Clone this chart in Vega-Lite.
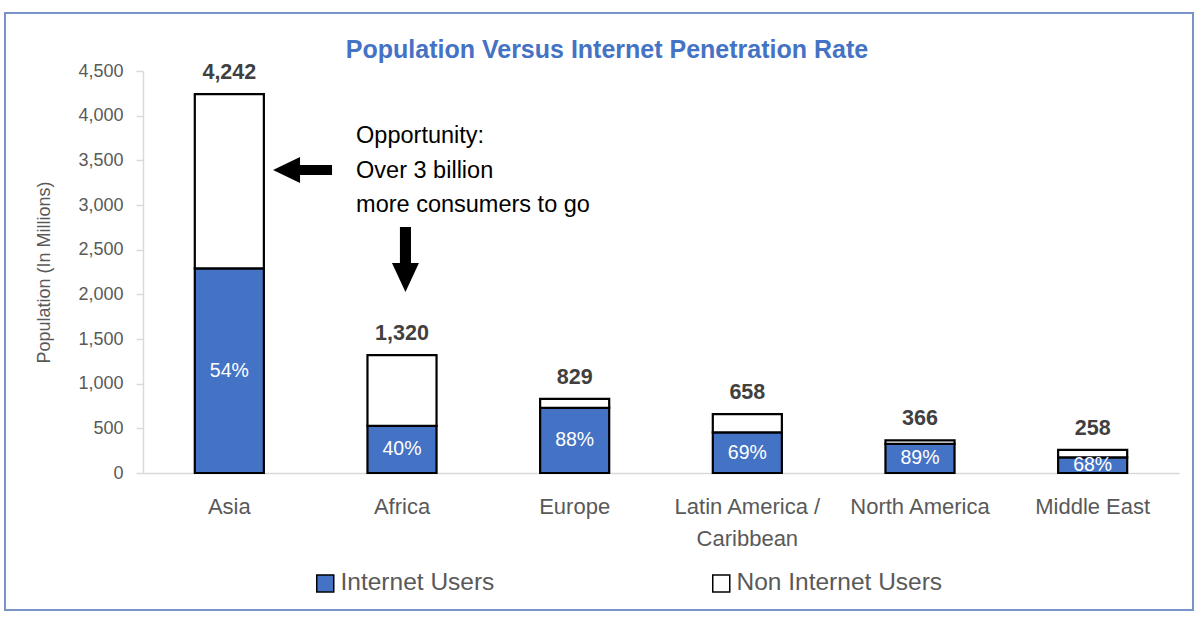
{
  "$schema": "https://vega.github.io/schema/vega-lite/v6.json",
  "width": 1188,
  "height": 597,
  "autosize": {"type": "none"},
  "padding": {"left": 5, "top": 13, "right": 7, "bottom": 10},
  "background": "white",
  "config": {
    "view": {"stroke": "#7a93c6", "strokeWidth": 2},
    "font": "Liberation Sans, Arial, sans-serif"
  },
  "title": {
    "text": "Population Versus Internet Penetration Rate",
    "fontSize": 25,
    "fontWeight": "bold",
    "color": "#4472c4",
    "anchor": "middle",
    "offset": -50,
    "dx": 8
  },
  "datasets": {
    "pop": [
      {"region": "Asia", "segment": "Internet Users", "value": 2291, "total": 4242, "pct": 0.54},
      {"region": "Asia", "segment": "Non Internet Users", "value": 1951, "total": 4242, "pct": 0.54},
      {"region": "Africa", "segment": "Internet Users", "value": 528, "total": 1320, "pct": 0.40},
      {"region": "Africa", "segment": "Non Internet Users", "value": 792, "total": 1320, "pct": 0.40},
      {"region": "Europe", "segment": "Internet Users", "value": 730, "total": 829, "pct": 0.88},
      {"region": "Europe", "segment": "Non Internet Users", "value": 99, "total": 829, "pct": 0.88},
      {"region": "Latin America / Caribbean", "segment": "Internet Users", "value": 454, "total": 658, "pct": 0.69},
      {"region": "Latin America / Caribbean", "segment": "Non Internet Users", "value": 204, "total": 658, "pct": 0.69},
      {"region": "North America", "segment": "Internet Users", "value": 326, "total": 366, "pct": 0.89},
      {"region": "North America", "segment": "Non Internet Users", "value": 40, "total": 366, "pct": 0.89},
      {"region": "Middle East", "segment": "Internet Users", "value": 175, "total": 258, "pct": 0.68},
      {"region": "Middle East", "segment": "Non Internet Users", "value": 83, "total": 258, "pct": 0.68}
    ],
    "notes": [
      {"label": ["Opportunity:", "Over 3 billion", "more consumers to go"], "x": 1.234, "y": 3694}
    ],
    "arrowLeft": [{"x": 0.924, "y": 3392}],
    "arrowDown": [{"x": 1.520, "y": 2390}]
  },
  "layer": [
    {
      "data": {"name": "pop"},
      "mark": {"type": "bar", "stroke": "#000000", "strokeWidth": 2.2},
      "encoding": {
        "x": {
          "field": "region", "type": "nominal",
          "sort": ["Asia", "Africa", "Europe", "Latin America / Caribbean", "North America", "Middle East"],
          "scale": {"range": [138, 1174], "paddingInner": 0.6, "paddingOuter": 0.3},
          "axis": {
            "title": null, "orient": "bottom", "offset": -137, "ticks": false,
            "domainColor": "#d9d9d9", "domainWidth": 1.5,
            "labelFontSize": 22, "labelColor": "#595959", "labelPadding": 23,
            "labelLineHeight": 32, "labelAngle": 0, "labelLimit": 0,
            "labelExpr": "datum.label == 'Latin America / Caribbean' ? ['Latin America /', 'Caribbean'] : datum.label"
          }
        },
        "y": {
          "field": "value", "type": "quantitative", "stack": "zero",
          "scale": {"domain": [0, 4500], "range": [460, 58], "nice": false},
          "axis": {
            "title": "Population (In Millions)",
            "values": [0, 500, 1000, 1500, 2000, 2500, 3000, 3500, 4000, 4500],
            "format": ",.0f", "offset": -138, "grid": false,
            "domainColor": "#d9d9d9", "domainWidth": 1.5,
            "tickColor": "#d9d9d9", "tickSize": 7, "tickWidth": 1.5,
            "labelFontSize": 18, "labelColor": "#595959", "labelPadding": 13,
            "titleFontSize": 18, "titleFontWeight": "normal", "titleColor": "#595959", "titlePadding": 24
          }
        },
        "color": {
          "field": "segment", "type": "nominal",
          "scale": {"domain": ["Internet Users", "Non Internet Users"], "range": ["#4472c4", "#ffffff"]},
          "legend": {
            "title": null, "orient": "none", "legendX": 308, "legendY": 558,
            "direction": "horizontal", "symbolType": "square", "symbolSize": 289,
            "symbolStrokeColor": "#000000", "symbolStrokeWidth": 1.5,
            "labelFontSize": 24.5, "labelColor": "#595959", "labelOffset": 3,
            "columnPadding": 214, "padding": 0, "labelLimit": 0
          }
        },
        "order": {"field": "segment", "sort": "ascending"}
      }
    },
    {
      "data": {"name": "pop"},
      "transform": [{"filter": "datum.segment == 'Internet Users'"}],
      "mark": {"type": "text", "fontSize": 21.5, "fontWeight": "bold", "color": "#404040", "baseline": "alphabetic", "dy": -15},
      "encoding": {
        "x": {
          "field": "region", "type": "nominal",
          "sort": ["Asia", "Africa", "Europe", "Latin America / Caribbean", "North America", "Middle East"],
          "scale": {"range": [138, 1174], "paddingInner": 0.6, "paddingOuter": 0.3},
          "axis": null
        },
        "y": {
          "field": "total", "type": "quantitative",
          "scale": {"domain": [0, 4500], "range": [460, 58], "nice": false},
          "axis": null
        },
        "text": {"field": "total", "type": "quantitative", "format": ","}
      }
    },
    {
      "data": {"name": "pop"},
      "transform": [{"filter": "datum.segment == 'Internet Users'"}],
      "mark": {"type": "text", "fontSize": 19.5, "color": "#ffffff", "baseline": "middle"},
      "encoding": {
        "x": {
          "field": "region", "type": "nominal",
          "sort": ["Asia", "Africa", "Europe", "Latin America / Caribbean", "North America", "Middle East"],
          "scale": {"range": [138, 1174], "paddingInner": 0.6, "paddingOuter": 0.3},
          "axis": null
        },
        "y": {
          "field": "value", "type": "quantitative",
          "scale": {"domain": [0, 9000], "range": [460, 58], "nice": false},
          "axis": null
        },
        "text": {"field": "pct", "type": "quantitative", "format": ".0%"}
      }
    },
    {
      "data": {"name": "notes"},
      "mark": {"type": "text", "fontSize": 23.5, "color": "#000000", "align": "left", "baseline": "alphabetic", "lineHeight": 34.5},
      "encoding": {
        "x": {"field": "x", "type": "quantitative", "scale": {"domain": [0, 6], "range": [138, 1174], "nice": false, "zero": false}, "axis": null},
        "y": {"field": "y", "type": "quantitative", "scale": {"domain": [0, 4500], "range": [460, 58], "nice": false}, "axis": null},
        "text": {"field": "label"}
      }
    },
    {
      "data": {"name": "arrowLeft"},
      "mark": {"type": "point", "filled": true, "color": "#000000", "opacity": 1, "size": 3481,
               "shape": "M -1 0 L -0.085 -0.44 L -0.085 -0.17 L 1 -0.17 L 1 0.17 L -0.085 0.17 L -0.085 0.44 Z"},
      "encoding": {
        "x": {"field": "x", "type": "quantitative", "scale": {"domain": [0, 6], "range": [138, 1174], "nice": false, "zero": false}, "axis": null},
        "y": {"field": "y", "type": "quantitative", "scale": {"domain": [0, 4500], "range": [460, 58], "nice": false}, "axis": null}
      }
    },
    {
      "data": {"name": "arrowDown"},
      "mark": {"type": "point", "filled": true, "color": "#000000", "opacity": 1, "size": 4225,
               "shape": "M 0 1 L -0.415 0.108 L -0.17 0.108 L -0.17 -1 L 0.17 -1 L 0.17 0.108 L 0.415 0.108 Z"},
      "encoding": {
        "x": {"field": "x", "type": "quantitative", "scale": {"domain": [0, 6], "range": [138, 1174], "nice": false, "zero": false}, "axis": null},
        "y": {"field": "y", "type": "quantitative", "scale": {"domain": [0, 4500], "range": [460, 58], "nice": false}, "axis": null}
      }
    }
  ],
  "resolve": {"scale": {"x": "independent", "y": "independent"}}
}
